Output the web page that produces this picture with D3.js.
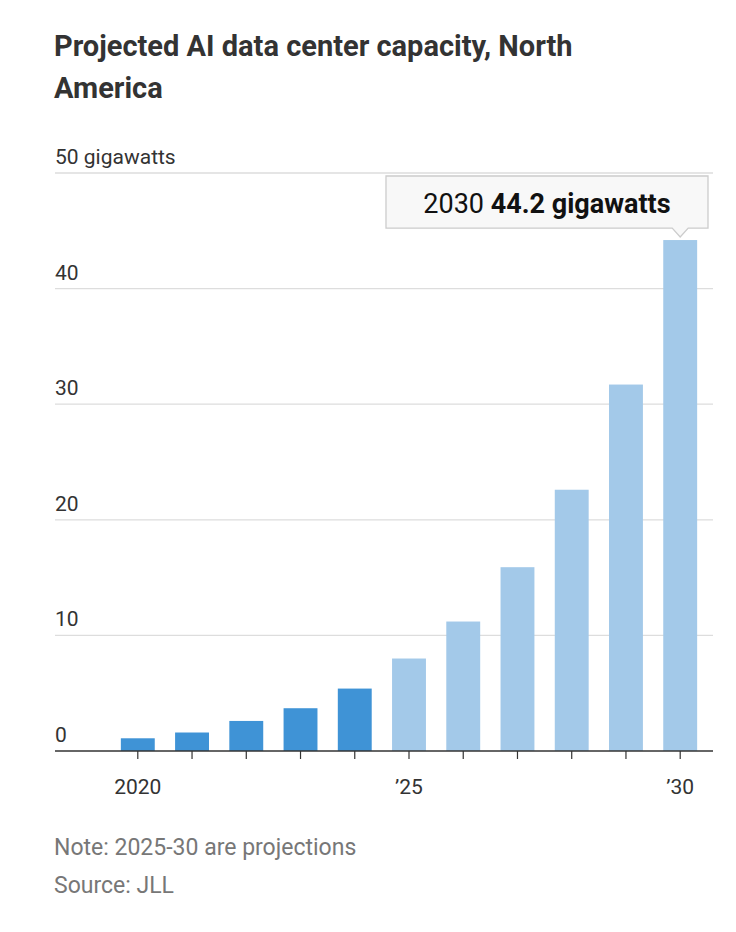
<!DOCTYPE html>
<html><head><meta charset="utf-8">
<script src="https://cdn.jsdelivr.net/npm/d3@7"></script>
<style>
body{margin:0;background:#fff;font-family:"Liberation Sans Narrow","Roboto",sans-serif;}
</style></head>
<body><svg id="chart" width="736" height="932"></svg>
<script>
const years = [2020,2021,2022,2023,2024,2025,2026,2027,2028,2029,2030];
const capacity = [1.1,1.6,2.6,3.7,5.4,8.0,11.2,15.9,22.6,31.7,44.2];
const projected = [false,false,false,false,false,true,true,true,true,true,true];
const yTicks = [0,10,20,30,40,50];
const xTickYears = [2020,2025,2030];
const xTickLabels = ["2020","’25","’30"];

const svg = d3.select("#chart");
const plotLeft = 55, plotRight = 713, plotTop = 173, plotBottom = 751;

svg.append("text").attr("x",54).attr("y",56).attr("font-size",29).attr("font-weight","bold")
  .attr("fill","#333").text("Projected AI data center capacity, North");
svg.append("text").attr("x",54).attr("y",98).attr("font-size",29).attr("font-weight","bold")
  .attr("fill","#333").text("America");

const x = d3.scaleBand().domain(years).range([110,708]).paddingInner(0.375).paddingOuter(0.2);
const y = d3.scaleLinear().domain([0,50]).range([plotBottom,plotTop]);

const grid = svg.append("g");
yTicks.forEach(t => {
  if (t > 0) grid.append("line").attr("x1",plotLeft).attr("x2",plotRight).attr("y1",y(t)).attr("y2",y(t))
    .attr("stroke","#ddd").attr("stroke-width",1.3);
  grid.append("text").attr("x",plotLeft).attr("y",y(t)-9).attr("font-size",21).attr("fill","#333")
    .text(t === 50 ? "50 gigawatts" : t);
});

svg.append("g").selectAll("rect").data(years).join("rect")
  .attr("x",d=>x(d)).attr("width",x.bandwidth())
  .attr("y",(d,i)=>y(capacity[i])).attr("height",(d,i)=>plotBottom-y(capacity[i]))
  .attr("fill",(d,i)=>projected[i] ? "#a3c9e9" : "#3f93d6");

svg.append("line").attr("x1",plotLeft).attr("x2",plotRight).attr("y1",plotBottom).attr("y2",plotBottom)
  .attr("stroke","#333").attr("stroke-width",1.5);
years.forEach(yr => {
  const cx = x(yr)+x.bandwidth()/2;
  svg.append("line").attr("x1",cx).attr("x2",cx).attr("y1",plotBottom).attr("y2",plotBottom+8)
    .attr("stroke","#333").attr("stroke-width",1.2);
});
xTickYears.forEach((yr,i) => {
  svg.append("text").attr("x",x(yr)+x.bandwidth()/2).attr("y",plotBottom+43).attr("text-anchor","middle")
    .attr("font-size",21).attr("fill","#333").text(xTickLabels[i]);
});

// tooltip
const last = years.length-1;
const px = x(years[last])+x.bandwidth()/2, py = y(capacity[last]);
const bx0 = 386, bx1 = 708, by0 = 176, by1 = py-12;
svg.append("path")
  .attr("d",`M${bx0},${by0}H${bx1}V${by1}H${px+8}L${px},${py-3}L${px-8},${by1}H${bx0}Z`)
  .attr("fill","#f8f8f8").attr("stroke","#ccc").attr("stroke-width",1.3);
const tt = svg.append("text").attr("x",(bx0+bx1)/2).attr("y",by0+37).attr("text-anchor","middle")
  .attr("font-size",27).attr("fill","#111");
tt.append("tspan").text(years[last]+" ");
tt.append("tspan").attr("font-weight","bold").text(capacity[last]+" gigawatts");

svg.append("text").attr("x",54).attr("y",855).attr("font-size",23).attr("fill","#777")
  .text("Note: 2025-30 are projections");
svg.append("text").attr("x",54).attr("y",893).attr("font-size",23).attr("fill","#777")
  .text("Source: JLL");
</script></body></html>
